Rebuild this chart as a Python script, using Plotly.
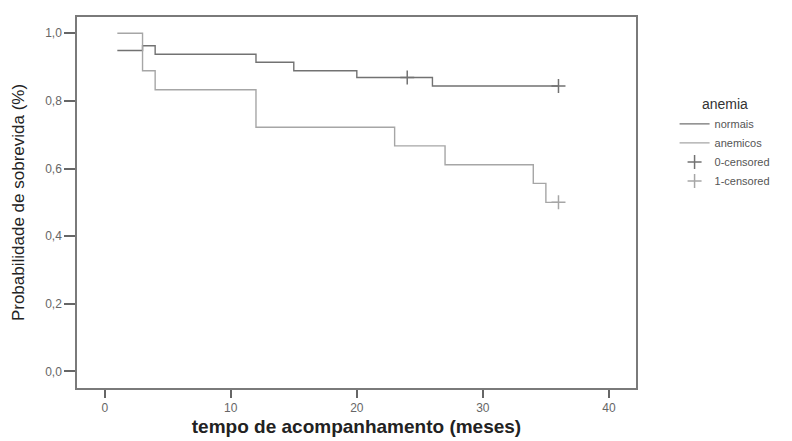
import plotly.graph_objects as go

# Kaplan-Meier step data
normais_t = [1, 3, 4, 12, 15, 20, 26, 36]
normais_s = [0.949, 0.963, 0.938, 0.914, 0.889, 0.869, 0.844, 0.844]
anemicos_t = [1, 3, 4, 12, 23, 27, 34, 35, 36]
anemicos_s = [1.0, 0.889, 0.833, 0.722, 0.667, 0.611, 0.556, 0.500, 0.500]

cens0_t = [24, 36]
cens0_s = [0.869, 0.844]
cens1_t = [36]
cens1_s = [0.500]

x_ticks = [0, 10, 20, 30, 40]
y_ticks = [0.0, 0.2, 0.4, 0.6, 0.8, 1.0]

c_norm = "#727272"
c_anem = "#a6a6a6"
font_family = "Liberation Sans, Arial, sans-serif"

fig = go.Figure()
fig.add_trace(go.Scatter(x=normais_t, y=normais_s, mode="lines", name="normais",
                         line=dict(color=c_norm, width=1.4, shape="hv")))
fig.add_trace(go.Scatter(x=anemicos_t, y=anemicos_s, mode="lines", name="anemicos",
                         line=dict(color=c_anem, width=1.4, shape="hv")))
fig.add_trace(go.Scatter(x=cens0_t, y=cens0_s, mode="markers", name="0-censored",
                         marker=dict(symbol="cross-thin", size=10,
                                     line=dict(color=c_norm, width=1.5))))
fig.add_trace(go.Scatter(x=cens1_t, y=cens1_s, mode="markers", name="1-censored",
                         marker=dict(symbol="cross-thin", size=10,
                                     line=dict(color=c_anem, width=1.5))))

# the page body adds an 8px offset, so the figure is sized to fit the window
fig.update_layout(
    width=784, height=433,
    margin=dict(l=69, r=156, t=9, b=53, autoexpand=False),
    paper_bgcolor="white", plot_bgcolor="white",
    separators=",.",
    font=dict(family=font_family, color="#555555", size=11),
    showlegend=True,
    legend=dict(
        x=1.069, y=0.80, xanchor="left", yanchor="top",
        title=dict(text="anemia", side="top center",
                   font=dict(size=14, color="#333333")),
        font=dict(size=11, color="#555555"),
        bgcolor="rgba(0,0,0,0)",
        itemwidth=30,
        tracegroupgap=0,
    ),
)

fig.update_xaxes(
    range=[-2.2, 42.15], tickvals=x_ticks, ticks="outside", ticklen=8,
    tickcolor="#666666", tickwidth=1.5, automargin=False,
    showgrid=False, zeroline=False,
    showline=True, mirror=True, linecolor="#7a7a7a", linewidth=1.5,
    tickfont=dict(size=12, color="#666666"),
    title=dict(text="<b>tempo de acompanhamento (meses)</b>",
               font=dict(size=19, color="#222222"), standoff=6),
)
fig.update_yaxes(
    range=[-0.049, 1.048], tickvals=y_ticks, tickformat=".1f",
    ticks="outside", ticklen=11, tickcolor="#666666", tickwidth=1.5,
    automargin=False,
    showgrid=False, zeroline=False,
    showline=True, mirror=True, linecolor="#7a7a7a", linewidth=1.5,
    tickfont=dict(size=12, color="#666666"),
    title=dict(text="Probabilidade de sobrevida (%)",
               font=dict(size=17, color="#222222"), standoff=16),
)

fig.write_html("out.html")
